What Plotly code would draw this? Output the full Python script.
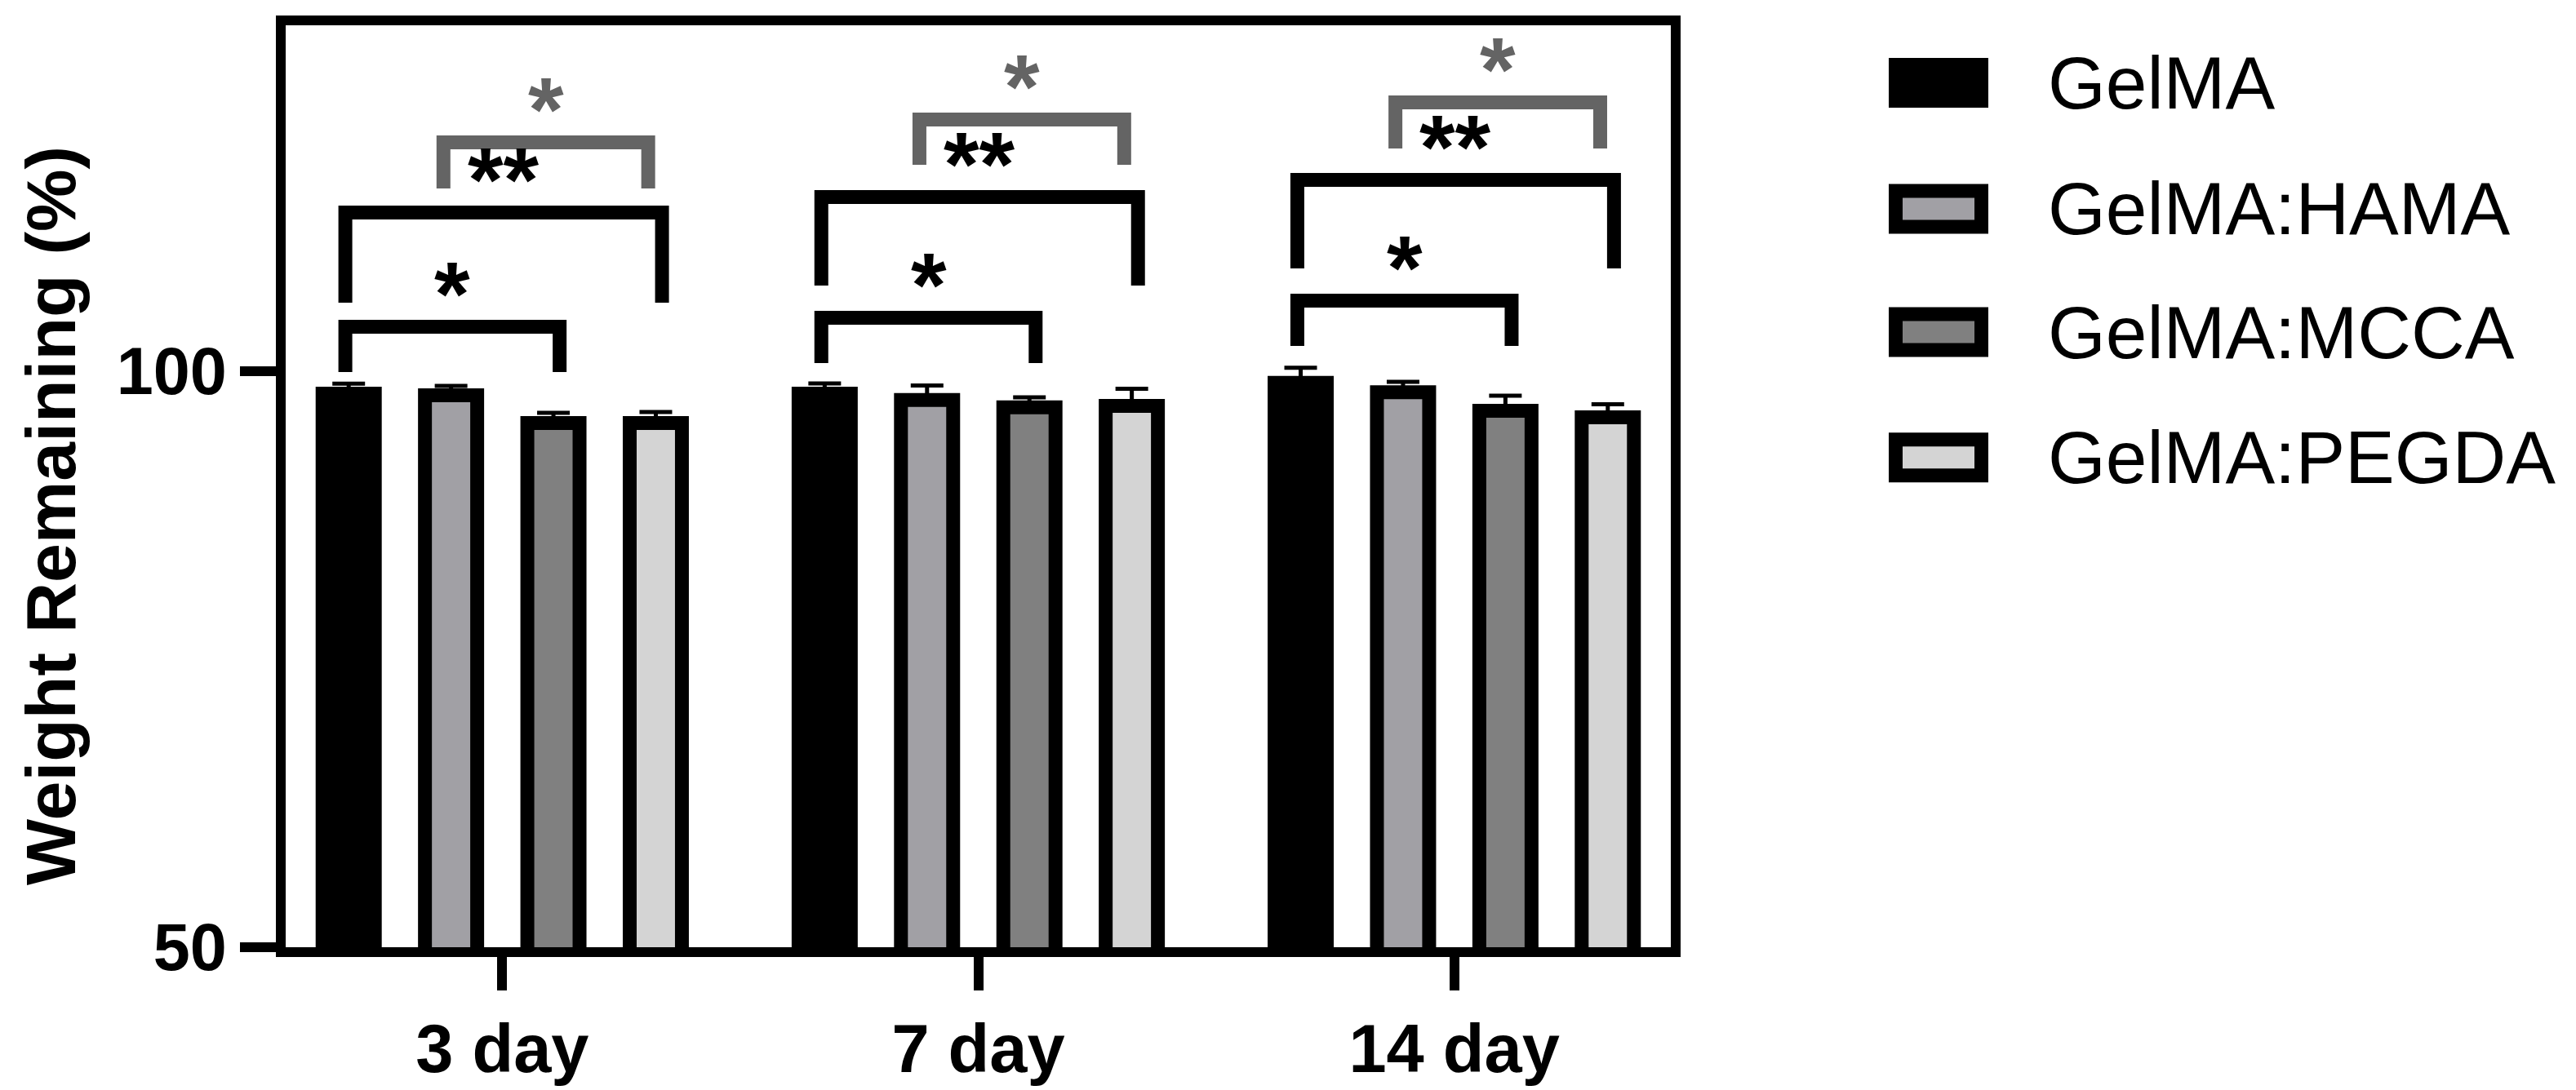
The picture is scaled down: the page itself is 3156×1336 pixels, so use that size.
import plotly.graph_objects as go

days = ['3 day', '7 day', '14 day']
groups = ['GelMA', 'GelMA:HAMA', 'GelMA:MCCA', 'GelMA:PEGDA']

gelma = [98.04, 98.04, 98.98]
gelma_hama = [97.89, 97.49, 98.16]
gelma_mcca = [95.49, 96.85, 96.55]
gelma_pegda = [95.49, 96.97, 95.98]

gelma_err = [0.86, 0.88, 1.30]
gelma_hama_err = [0.81, 1.25, 0.91]
gelma_mcca_err = [0.88, 0.86, 1.31]
gelma_pegda_err = [0.95, 1.49, 1.13]

means = [gelma, gelma_hama, gelma_mcca, gelma_pegda]
errs = [gelma_err, gelma_hama_err, gelma_mcca_err, gelma_pegda_err]
fills = ['#000000', '#a1a0a5', '#808080', '#d4d4d4']

# significance: (day index, bar a, bar b, label, colour, bracket top, leg bottom)
sig = [
    (0, 0, 2, '*', 'black', 103.84, 99.91),
    (0, 0, 3, '**', 'black', 113.75, 105.93),
    (0, 1, 3, '*', 'gray', 119.84, 115.84),
    (1, 0, 2, '*', 'black', 104.62, 100.69),
    (1, 0, 3, '**', 'black', 115.1, 107.42),
    (1, 1, 3, '*', 'gray', 121.82, 117.89),
    (2, 0, 2, '*', 'black', 106.1, 102.18),
    (2, 0, 3, '**', 'black', 116.58, 108.9),
    (2, 1, 3, '*', 'gray', 123.31, 119.31),
]

# the page body has an 8px margin: positions below are page pixels, shifted back by OFF
OFF = 8
W, H = 3156, 1336
L, R, T, B = 350 - OFF, 2047 - OFF, 31 - OFF, 1161 - OFF
font = 'Liberation Sans, Arial'
grey = '#646464'

fig = go.Figure()
for name, m, e, c in zip(groups, means, errs, fills):
    fig.add_trace(go.Bar(
        x=[0, 1, 2], y=m, name=name, marker_color=c,
        marker_line=dict(color='black', width=17),
        error_y=dict(type='data', array=e, arrayminus=[0] * len(e), symmetric=False,
                     color='black', thickness=5, width=20),
        showlegend=False))

slot = 0.2151
def bar_x(day, i):
    return day + (i - 1.5) * slot

for day, a, b, txt, col, ytop, ybot in sig:
    color = 'black' if col == 'black' else grey
    if col == 'black':
        x0, x1 = bar_x(day, a) - 0.007, bar_x(day, b) + 0.013
    else:
        x0, x1 = bar_x(day, a) - 0.016, bar_x(day, b) - 0.016
    fig.add_shape(type='path', xref='x', yref='y',
                  path=f'M {x0},{ybot} L {x0},{ytop} L {x1},{ytop} L {x1},{ybot}',
                  line=dict(color=color, width=17))
    fig.add_annotation(x=(x0 + x1) / 2, y=ytop, xref='x', yref='y', text=txt,
                       showarrow=False, yanchor='middle', yshift=40,
                       font=dict(family=font, size=112, color=color, weight='bold'))

# page pixel -> paper fraction
def px(x):
    return (x - OFF - L) / (R - L)
def py(y):
    return (B - (y - OFF)) / (B - T)

# legend drawn by hand so the swatches match the bar style
leg_y = [101.6, 256, 407, 560.8]
for name, c, yc in zip(groups, fills, leg_y):
    fig.add_shape(type='rect', xref='paper', yref='paper',
                  x0=px(2322.5), x1=px(2427.5), y0=py(yc + 22), y1=py(yc - 22),
                  fillcolor=c, line=dict(color='black', width=17))
    fig.add_annotation(x=px(2507), y=py(yc), xref='paper', yref='paper', text=name,
                       showarrow=False, xanchor='left', yanchor='middle',
                       font=dict(family=font, size=91, color='black'))

fig.add_annotation(x=px(62), y=py(632), xref='paper', yref='paper',
                   text='Weight Remaining (%)', textangle=-90, showarrow=False,
                   xanchor='center', yanchor='middle',
                   font=dict(family=font, size=86, color='black', weight='bold'))

fig.update_layout(
    width=W, height=H,
    margin=dict(l=L, r=W - R, t=T, b=H - B),
    plot_bgcolor='white', paper_bgcolor='white',
    barmode='group', bargap=0.1397, bargroupgap=0.49,
    showlegend=False,
)
fig.update_xaxes(range=[-0.455, 2.455], tickvals=[0, 1, 2], ticktext=days,
                 showline=True, linewidth=12, linecolor='black', mirror=True,
                 ticks='outside', ticklen=41, tickwidth=12, tickcolor='black',
                 tickfont=dict(family=font, size=83, color='black', weight='bold'),
                 showgrid=False, zeroline=False)
fig.update_yaxes(range=[50, 130], tickvals=[50, 100],
                 showline=True, linewidth=12, linecolor='black', mirror=True,
                 ticks='outside', ticklen=44, tickwidth=12, tickcolor='black',
                 tickfont=dict(family=font, size=81, color='black', weight='bold'),
                 showgrid=False, zeroline=False)

fig.write_html('out.html')
